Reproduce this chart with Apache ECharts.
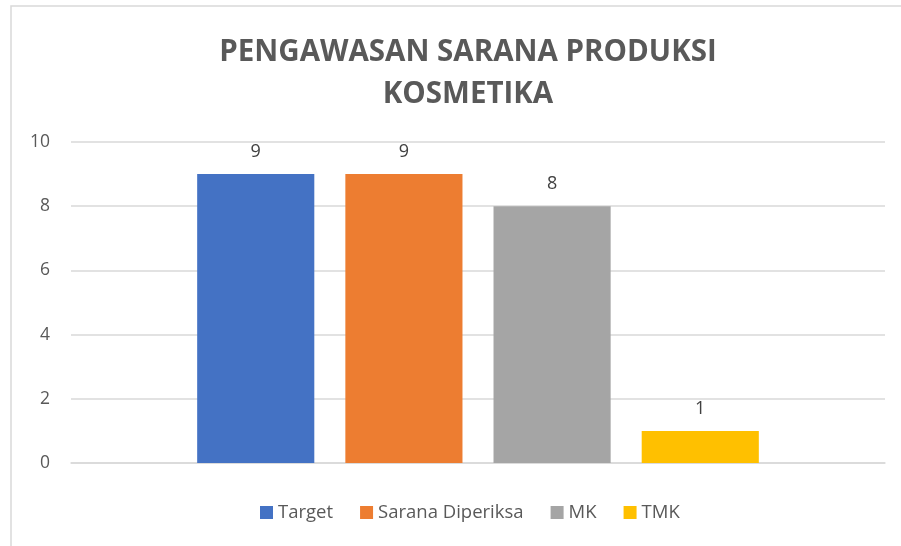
<!DOCTYPE html>
<html>
<head>
    <meta charset="utf-8">
    <title>ECharts</title>
    <script src="https://cdn.jsdelivr.net/npm/echarts@6/dist/echarts.min.js"></script>
</head>
<body style="margin:0">
<div id="main" style="width: 901px;height:546px;"></div>
<script type="text/javascript">
    var myChart = echarts.init(document.getElementById('main'));

    // data
    var seriesNames = ['Target', 'Sarana Diperiksa', 'MK', 'TMK'];
    var seriesValues = [9, 9, 8, 1];
    var colorList = ['#4472C4', '#ED7D31', '#A5A5A5', '#FFC000'];
    var yTicks = [0, 2, 4, 6, 8, 10];

    var font = '"Open Sans", "Noto Sans", sans-serif';

    var series = seriesNames.map(function (name, i) {
        return {
            name: name,
            type: 'bar',
            data: [seriesValues[i]],
            barGap: '26.5%',
            barCategoryGap: '31%',
            itemStyle: { color: colorList[i] },
            label: {
                show: true,
                position: 'top',
                distance: 13,
                color: '#404040',
                fontSize: 18,
                fontFamily: font
            }
        };
    });

    var option = {
        backgroundColor: '#fff',
        graphic: [{
            type: 'rect',
            shape: { x: 11, y: 6, width: 900, height: 560 },
            style: { fill: 'none', stroke: '#d9d9d9', lineWidth: 1.5 },
            silent: true
        }],
        title: {
            text: 'PENGAWASAN SARANA PRODUKSI\nKOSMETIKA',
            left: 463,
            textAlign: 'center',
            top: 27,
            textStyle: {
                color: '#595959',
                fontSize: 29.5,
                fontWeight: 'bold',
                fontFamily: font,
                lineHeight: 42
            }
        },
        legend: {
            bottom: 19,
            left: 255,
            itemWidth: 13,
            itemHeight: 13,
            itemGap: 27,
            icon: 'rect',
            textStyle: {
                color: '#595959',
                fontSize: 18.5,
                fontFamily: font
            },
            data: seriesNames
        },
        grid: {
            left: 71,
            right: 16,
            top: 142,
            bottom: 83
        },
        xAxis: {
            type: 'category',
            data: [''],
            axisLine: { lineStyle: { color: '#d9d9d9', width: 1.5 } },
            axisTick: { show: false },
            axisLabel: { show: false }
        },
        yAxis: {
            type: 'value',
            min: yTicks[0],
            max: yTicks[yTicks.length - 1],
            interval: 2,
            axisLine: { show: false },
            axisTick: { show: false },
            axisLabel: {
                color: '#595959',
                fontSize: 17.5,
                fontFamily: font,
                margin: 21
            },
            splitLine: { lineStyle: { color: '#d9d9d9', width: 1.5 } }
        },
        series: series
    };

    myChart.setOption(option);
</script>
</body>
</html>
